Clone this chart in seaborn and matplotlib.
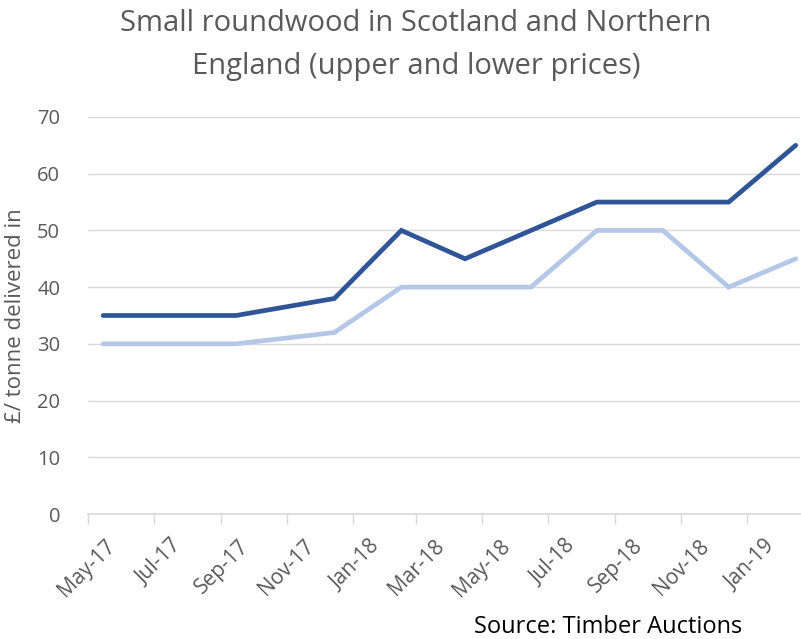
import pandas as pd
import matplotlib.pyplot as plt
import matplotlib.dates as mdates
import matplotlib.transforms as mtransforms
import seaborn as sns

# Data (mid-month points)
dates = ["2017-05-15", "2017-09-15", "2017-12-15", "2018-02-15", "2018-04-15",
         "2018-06-15", "2018-08-15", "2018-10-15", "2018-12-15", "2019-02-15"]
upper = [35, 35, 38, 50, 45, 50, 55, 55, 55, 65]
lower = [30, 30, 32, 40, 40, 40, 50, 50, 40, 45]
tick_dates = pd.date_range("2017-05-01", "2019-01-01", freq="2MS")


def main():
    df = pd.DataFrame({"date": pd.to_datetime(dates), "Upper": upper, "Lower": lower})
    plot_df = df.melt(id_vars="date", var_name="price", value_name="value")

    sns.set_theme(style="white")
    plt.rcParams["font.family"] = ["Open Sans", "DejaVu Sans"]

    fig = plt.figure(figsize=(8.01, 6.39), dpi=100)
    ax = fig.add_axes([88 / 801, 1 - 514 / 639, 712 / 801, 397 / 639])

    palette = {"Upper": "#2F5597", "Lower": "#B4C7E7"}
    sns.lineplot(data=plot_df, x="date", y="value", hue="price",
                 hue_order=["Lower", "Upper"], palette=palette,
                 linewidth=3.4, legend=False, ax=ax)
    for line in ax.get_lines():
        line.set_solid_capstyle("round")
        line.set_solid_joinstyle("miter")

    ax.set_xlim(pd.Timestamp("2017-05-01"), pd.Timestamp("2019-02-19"))
    ax.set_ylim(0, 70)
    ax.set_yticks(range(0, 71, 10))
    ax.set_xticks(tick_dates)
    ax.xaxis.set_major_formatter(mdates.DateFormatter("%b-%y"))
    ax.grid(axis="y", color="#D9D9D9", linewidth=1)
    ax.set_axisbelow(True)
    for s in ["top", "right", "left"]:
        ax.spines[s].set_visible(False)
    ax.spines["bottom"].set_color("#D9D9D9")
    ax.tick_params(axis="x", bottom=True, length=7, width=1, color="#D9D9D9",
                   labelsize=15, labelcolor="#595959", pad=2)
    ax.tick_params(axis="y", left=False, labelsize=14.5, labelcolor="#595959", pad=14)
    shift = mtransforms.ScaledTranslation(17 / 100, -9 / 100, fig.dpi_scale_trans)
    for lbl in ax.get_xticklabels():
        lbl.set_rotation(45)
        lbl.set_ha("right")
        lbl.set_rotation_mode("anchor")
        lbl.set_transform(lbl.get_transform() + shift)

    ax.set_xlabel("")
    ax.set_ylabel("£/ tonne delivered in", fontsize=16, color="#595959", labelpad=8)

    fig.text(416 / 801, 1 - 45 / 639, "Small roundwood in Scotland and Northern\nEngland (upper and lower prices)",
             ha="center", va="center", fontsize=21, color="#595959", linespacing=1.6)
    fig.text(742 / 801, 1 - 627 / 639, "Source: Timber Auctions", ha="right", va="center",
             fontsize=17, color="black")

    fig.savefig("out.png", dpi=100)


if __name__ == "__main__":
    main()
